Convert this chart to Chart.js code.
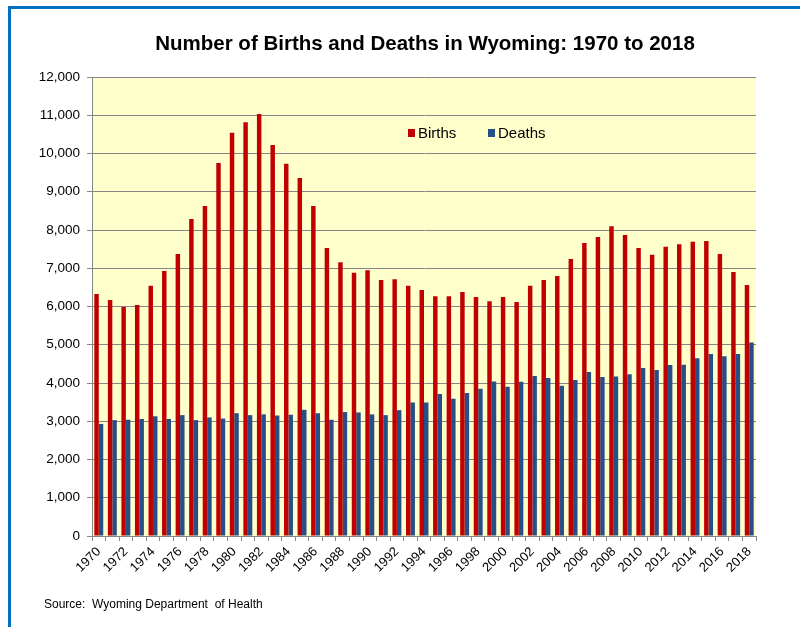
<!DOCTYPE html>
<html>
<head>
<meta charset="utf-8">
<script src="https://cdn.jsdelivr.net/npm/chart.js@4.4.1/dist/chart.umd.min.js"></script>
<style>
  body { margin: 0; background: #fff; }
  #wrap { position: relative; width: 800px; height: 627px; }
  #frame {
    position: absolute; left: 8px; top: 6px; right: -10px; bottom: -10px;
    border-left: 3px solid #0070C0; border-top: 3px solid #0070C0;
    pointer-events: none;
  }
</style>
</head>
<body>
<div id="wrap">
  <canvas id="chart" width="800" height="627"></canvas>
  <div id="frame"></div>
</div>
<script>
const years = [];
for (let y = 1970; y <= 2018; y++) years.push(String(y));

const births = [
  6330, 6170, 5990, 6040, 6540, 6930, 7370, 8290, 8630, 9750,
  10540, 10820, 11030, 10220, 9730, 9360, 8630, 7530, 7160, 6880,
  6950, 6690, 6710, 6540, 6430, 6270, 6270, 6380, 6250, 6140,
  6250, 6120, 6540, 6690, 6800, 7240, 7660, 7820, 8100, 7870,
  7530, 7350, 7560, 7630, 7690, 7710, 7370, 6900, 6560
];

const deaths = [
  2930, 3030, 3040, 3060, 3130, 3060, 3160, 3030, 3100, 3070,
  3210, 3160, 3180, 3150, 3170, 3300, 3210, 3040, 3240, 3230,
  3180, 3160, 3290, 3490, 3490, 3710, 3590, 3740, 3850, 4040,
  3900, 4030, 4180, 4130, 3930, 4080, 4290, 4160, 4170, 4230,
  4390, 4340, 4470, 4480, 4650, 4760, 4700, 4760, 5060
];

const yTicksMax = 12000;
const titleText = "Number of Births and Deaths in Wyoming: 1970 to 2018";
const sourceText = "Source:  Wyoming Department  of Health";

const axisGray = "#868686";

const decorPlugin = {
  id: "decor",
  beforeDraw(chart) {
    const { ctx, chartArea: a } = chart;
    ctx.save();
    ctx.fillStyle = "#FFFFCC";
    ctx.fillRect(a.left, a.top, a.right - a.left, a.bottom - a.top);
    ctx.restore();
  },
  afterDraw(chart) {
    const ctx = chart.ctx;
    ctx.save();
    // title
    ctx.fillStyle = "#000";
    ctx.font = "bold 20.5px 'Liberation Sans', sans-serif";
    ctx.textAlign = "center";
    ctx.textBaseline = "middle";
    ctx.fillText(titleText, 425, 44);

    // legend inside plot
    ctx.font = "15px 'Liberation Sans', Arial, sans-serif";
    ctx.textAlign = "left";
    const items = chart.data.datasets;
    const xs = [408, 488];
    items.forEach((ds, i) => {
      ctx.fillStyle = ds.backgroundColor;
      ctx.fillRect(xs[i], 129, 7, 8);
      ctx.fillStyle = "#000";
      ctx.fillText(ds.label, xs[i] + 10, 134);
    });

    // source note
    ctx.font = "12px 'Liberation Sans', Arial, sans-serif";
    ctx.fillText(sourceText, 44, 605);
    ctx.restore();
  }
};

new Chart(document.getElementById("chart"), {
  type: "bar",
  data: {
    labels: years,
    datasets: [
      {
        label: "Births",
        data: births,
        backgroundColor: "#C00000",
        categoryPercentage: 0.66,
        barPercentage: 1.0,
      },
      {
        label: "Deaths",
        data: deaths,
        backgroundColor: "#264F87",
        categoryPercentage: 0.66,
        barPercentage: 1.0,
      },
    ],
  },
  options: {
    responsive: false,
    animation: false,
    layout: { padding: { top: 77, left: 0, right: 44, bottom: 31 } },
    plugins: {
      legend: { display: false },
      title: { display: false },
      tooltip: { enabled: false },
    },
    scales: {
      x: {
        afterFit(scale) { scale.height = 60; },
        grid: {
          offset: true,
          color: "rgba(0,0,0,0)",
          tickColor: axisGray,
          tickLength: 5,
        },
        border: { display: true, color: axisGray },
        ticks: {
          autoSkip: false,
          maxRotation: 45,
          minRotation: 45,
          padding: 3,
          color: "#000",
          font: { family: "'Liberation Sans', Arial, sans-serif", size: 13 },
          callback(value, index) {
            return index % 2 === 0 ? this.getLabelForValue(value) : "";
          },
        },
      },
      y: {
        min: 0,
        max: yTicksMax,
        afterFit(scale) { scale.width = 92; },
        grid: {
          color(ctx) {
            return ctx.tick && ctx.tick.value % 1000 === 0 ? axisGray : "rgba(0,0,0,0)";
          },
          tickColor: axisGray,
          tickLength: 5,
        },
        border: { display: true, color: axisGray },
        ticks: {
          stepSize: 500,
          padding: 7,
          color: "#000",
          font: { family: "'Liberation Sans', Arial, sans-serif", size: 13.5 },
          callback(value) {
            return value % 1000 === 0 ? value.toLocaleString("en-US") : "";
          },
        },
      },
    },
  },
  plugins: [decorPlugin],
});
</script>
</body>
</html>
